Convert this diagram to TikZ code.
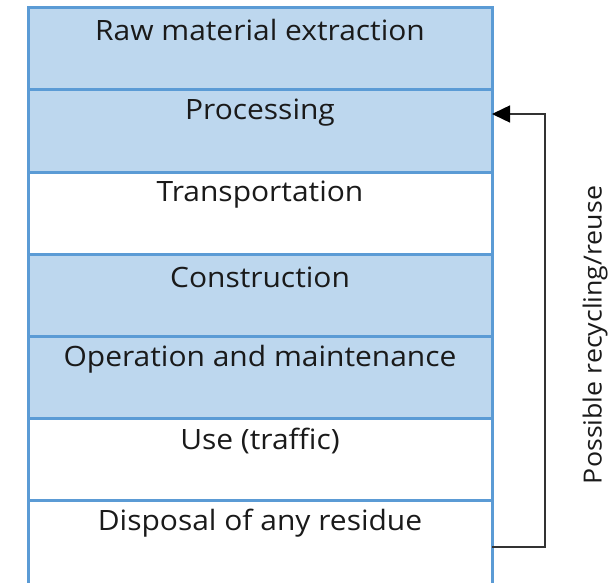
\documentclass[tikz,border=0pt]{standalone}
\usepackage{fontspec}
\setmainfont{Open Sans}[FakeStretch=1.07]
\usetikzlibrary{arrows.meta,calc}
\definecolor{rowblue}{HTML}{BDD7EE}
\definecolor{edgeblue}{HTML}{5B9BD5}
\definecolor{txt}{HTML}{1A1A1A}
\tikzset{
  row/.style={draw=edgeblue, line width=3pt, minimum width=464pt, minimum height=82pt,
    inner sep=0pt, outer sep=0pt, anchor=north west},
  bluerow/.style={row, fill=rowblue},
  whiterow/.style={row, fill=white},
  rowtext/.style={font=\fontsize{28}{32}\selectfont, text=txt, anchor=center},
  loop/.style={draw=black!80, line width=1.5pt, -{Triangle[length=18pt,width=17pt,color=black]}},
}
\begin{document}
\begin{tikzpicture}[x=1pt,y=-1pt]
\clip (0,0) rectangle (613,583);
\fill[white] (0,0) rectangle (613,583);
\node[bluerow] (r1) at (28,8) {};
\node[bluerow] (r2) at (28,90) {};
\node[whiterow] (r3) at (28,172) {};
\node[bluerow] (r4) at (28,254) {};
\node[bluerow] (r5) at (28,336) {};
\node[whiterow] (r6) at (28,418) {};
\node[whiterow, minimum height=100pt] (r7) at (28,500) {};
\node[rowtext] (t1) at ($(r1.north)+(0,22)$) {Raw material extraction};
\node[rowtext] (t2) at ($(r2.north)+(0,23)$) {Processing};
\node[rowtext] (t3) at ($(r3.north)+(0,23)$) {Transportation};
\node[rowtext] (t4) at ($(r4.north)+(0,23)$) {Construction};
\node[rowtext] (t5) at ($(r5.north)+(0,23)$) {Operation and maintenance};
\node[rowtext] (t6) at ($(r6.north)+(0,23)$) {Use (traffic)};
\node[rowtext] (t7) at ($(r7.north)+(0,23)$) {Disposal of any residue};
\coordinate (s) at ($(r7.north east)+(0,47)$);
\coordinate (e) at ($(r2.north east)+(0,24)$);
\draw[loop] (s) -- (545,547) -- (545,114) -- (e);
\node[font=\fontsize{25}{29}\selectfont, text=txt, rotate=90] (lab) at (595,335) {Possible recycling/reuse};
\end{tikzpicture}
\end{document}
